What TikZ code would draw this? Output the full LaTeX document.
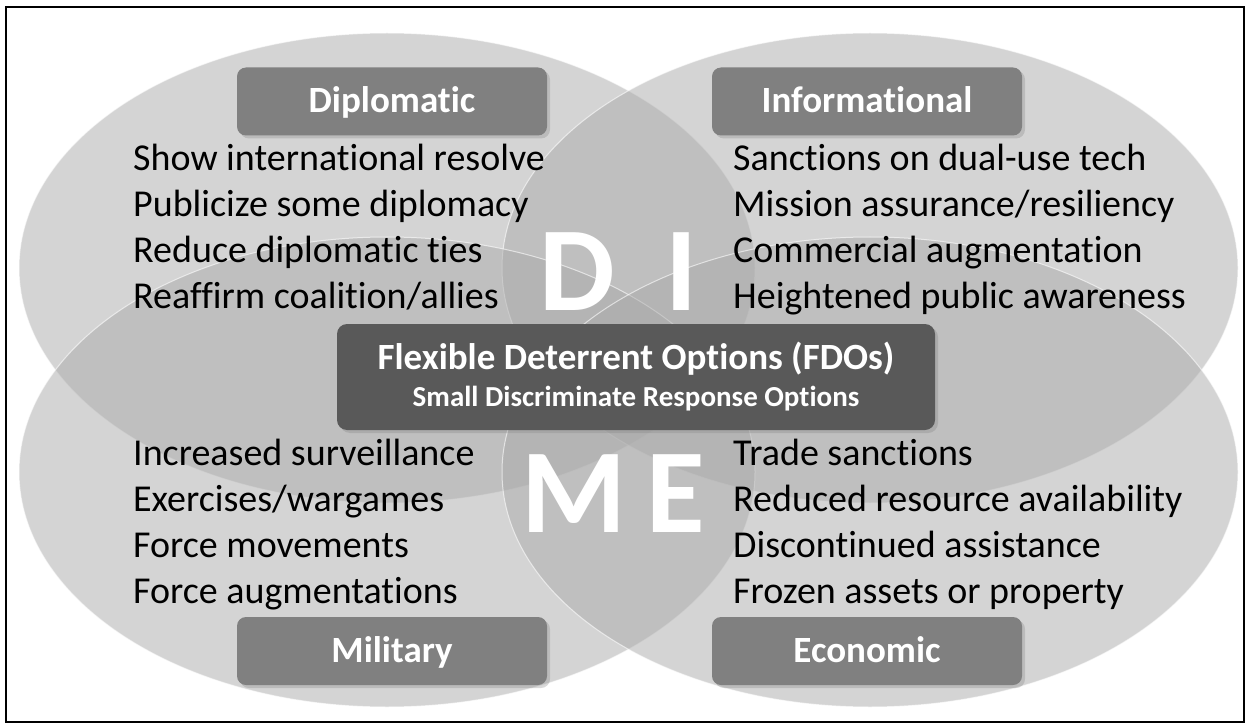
\documentclass[tikz,border=0pt]{standalone}
\usepackage{fontspec}
\setmainfont{Carlito}[Ligatures=NoCommon]
\usetikzlibrary{shadows}

\begin{document}
\begin{tikzpicture}[x=1pt,y=-1pt,
  area/.style={fill=gray!67,fill opacity=0.5,draw=white,draw opacity=0.6,line width=1pt},
  tag/.style={fill=gray,rounded corners=9pt,minimum width=310pt,minimum height=68pt,text=white,
    text height=23pt,text depth=0pt,font=\bfseries\fontsize{37}{40}\selectfont,
    drop shadow={shadow xshift=3pt,shadow yshift=-3pt,opacity=0.3}},
  item/.style={anchor=north west,inner sep=0pt,align=left,font=\fontsize{38}{46}\selectfont},
  big/.style={anchor=base,text=white,font=\bfseries\fontsize{120}{120}\selectfont}]
  \useasboundingbox (0,0) rectangle (1249,727);
  \draw[line width=2pt] (6,7) rectangle (1244,722);

  \path[area] (387,268) ellipse [x radius=368pt,y radius=235pt];
  \path[area] (870,268) ellipse [x radius=368pt,y radius=235pt];
  \path[area] (387,472) ellipse [x radius=368pt,y radius=235pt];
  \path[area] (870,472) ellipse [x radius=368pt,y radius=235pt];

  \node[tag] (dip) at (392,101.5) {Diplomatic};
  \node[tag] (inf) at (867,101.5) {Informational};
  \node[tag] (mil) at (392,651) {Military};
  \node[tag] (eco) at (867,651) {Economic};

  \node[item] (diplist) at (133,144) {Show international resolve\\Publicize some diplomacy\\Reduce diplomatic ties\\Reaffirm coalition/allies};
  \node[item] (inflist) at (733,144) {Sanctions on dual-use tech\\Mission assurance/resiliency\\Commercial augmentation\\Heightened public awareness};
  \node[item] (millist) at (133,439) {Increased surveillance\\Exercises/wargames\\Force movements\\Force augmentations};
  \node[item] (ecolist) at (733,439) {Trade sanctions\\Reduced resource availability\\Discontinued assistance\\Frozen assets or property};

  \node[big] (d) at (577,310) {D};
  \node[big] (i) at (681,310) {I};
  \node[big] (m) at (574,532) {M};
  \node[big] (e) at (676,532) {E};

  \node[fill=black!65,rounded corners=10pt,minimum width=598pt,minimum height=106pt,text=white,align=center,
    font=\bfseries\fontsize{37}{37}\selectfont,drop shadow={shadow xshift=3pt,shadow yshift=-3pt,opacity=0.3}]
    (fdo) at (636,377) {Flexible Deterrent Options (FDOs)\\{\fontsize{29}{37}\selectfont Small Discriminate Response Options}};
\end{tikzpicture}
\end{document}
